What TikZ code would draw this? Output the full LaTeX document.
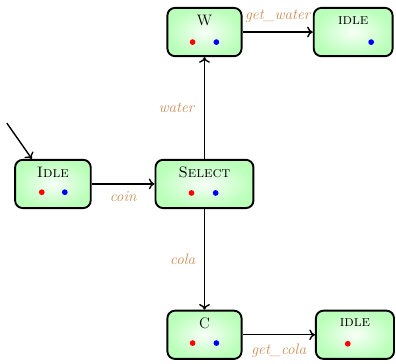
\documentclass[tikz,border=0pt]{standalone}
\usepackage{amsmath}
\usepackage{tikz}
\usetikzlibrary{arrows, arrows.meta, positioning, shapes.geometric}
\usepackage{xcolor}
\definecolor{edgelabel}{RGB}{205,140,85}

\begin{document}
\begin{tikzpicture}[
  state/.style={rectangle, rounded corners=6pt, draw=black, line width=1.5pt,
    inner color=green!3, outer color=green!27,
    minimum height=1.34cm, minimum width=2.1cm},
  trans/.style={-{To[length=4.5pt, width=8.5pt]}, line width=1.1pt},
  lbl/.style={text=edgelabel, font=\large\itshape}]
  \useasboundingbox (0, 0) rectangle (11, 10.11);

  % the states
  \node[state]                          (idle)   at (1.47, 5.0)  {};
  \node[state, minimum width=2.72cm]    (select) at (5.68, 5.0)  {};
  \node[state, minimum width=2.06cm]    (w)      at (5.68, 9.22) {};
  \node[state, minimum width=2.19cm]    (idlew)  at (9.81, 9.22) {};
  \node[state, minimum width=2.06cm]    (c)      at (5.68, 0.81) {};
  \node[state, minimum width=2.17cm]    (idlec)  at (9.86, 0.81) {};

  % state names
  \node[font=\large] (idle title)   at ([yshift=0.33cm]idle.center)   {\textsc{Idle}};
  \node[font=\large] (select title) at ([yshift=0.33cm]select.center) {\textsc{Select}};
  \node[font=\large] (w title)      at ([yshift=0.33cm]w.center)      {W};
  \node[font=\large] (idlew title)  at ([yshift=0.33cm]idlew.center)  {\textsc{idle}};
  \node[font=\large] (c title)      at ([yshift=0.33cm]c.center)      {C};
  \node[font=\large] (idlec title)  at ([yshift=0.33cm]idlec.center)  {\textsc{idle}};

  % tokens
  \fill[red]  ([xshift=-0.31cm, yshift=-0.23cm]idle.center)   circle (0.08);
  \fill[blue] ([xshift=0.33cm,  yshift=-0.23cm]idle.center)   circle (0.08);
  \fill[red]  ([xshift=-0.36cm, yshift=-0.25cm]select.center) circle (0.08);
  \fill[blue] ([xshift=0.31cm,  yshift=-0.25cm]select.center) circle (0.08);
  \fill[red]  ([xshift=-0.33cm, yshift=-0.28cm]w.center)      circle (0.08);
  \fill[blue] ([xshift=0.33cm,  yshift=-0.28cm]w.center)      circle (0.08);
  \fill[blue] ([xshift=0.5cm,   yshift=-0.28cm]idlew.center)  circle (0.08);
  \fill[red]  ([xshift=-0.33cm, yshift=-0.23cm]c.center)      circle (0.08);
  \fill[blue] ([xshift=0.33cm,  yshift=-0.23cm]c.center)      circle (0.08);
  \fill[red]  ([xshift=-0.2cm,  yshift=-0.25cm]idlec.center)  circle (0.08);

  % transitions
  \coordinate (start) at (0.19, 6.69);
  \draw[trans] (start) -- (idle.130);
  \draw[trans] (idle) -- node[lbl, below=0.08cm] (coin) {coin} (select);
  \draw[trans] (select) -- node[lbl, left=0.15cm] (water) {water} (w);
  \draw[trans] (select) -- node[lbl, left=0.12cm] (cola) {cola} (c);
  \draw[trans] (w) -- node[lbl, above=0.12cm] (getw) {get\_water} (idlew);
  \draw[trans] (c) -- node[lbl, below=0.12cm] (getc) {get\_cola} (idlec);
\end{tikzpicture}
\end{document}
